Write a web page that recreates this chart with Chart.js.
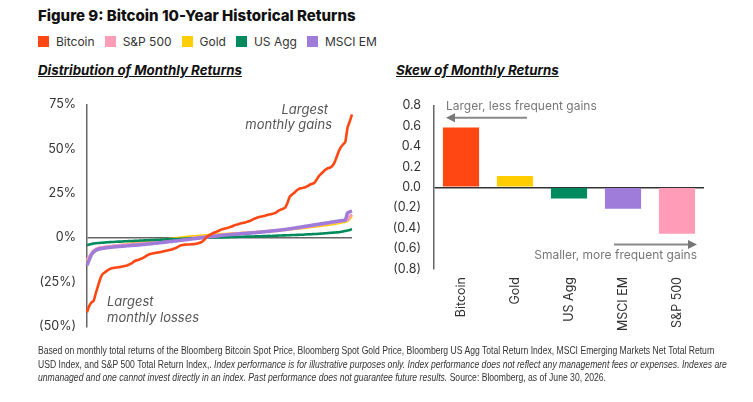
<!DOCTYPE html>
<html>
<head>
<meta charset="utf-8">
<script src="https://cdn.jsdelivr.net/npm/chart.js@4.4.1/dist/chart.umd.min.js"></script>
<style>
  body { margin: 0; background: #fff; width: 753px; height: 402px; overflow: hidden; font-family: Inter, "Open Sans", sans-serif; color: #222; }
  .abs { position: absolute; }
  #title { left: 38px; top: 6px; font-size: 15px; font-weight: 800; color: #111; white-space: nowrap; }
  #legend { left: 38px; top: 34px; font-size: 12px; color: #333; white-space: nowrap; display: flex; }
  #legend span.item { display: inline-flex; align-items: center; margin-right: 10px; }
  #legend span.sw { width: 11px; height: 11px; display: inline-block; margin-right: 7px; }
  .sub { top: 62px; font-size: 13.3px; font-weight: 700; font-style: italic; text-decoration: underline; color: #111; white-space: nowrap; }
  #foot { left: 38px; top: 344px; font-family: "Liberation Sans", Arial, sans-serif; font-size: 10px; line-height: 13.5px; color: #333; white-space: nowrap; transform: scaleX(0.86); transform-origin: 0 0; }
  #foot i { font-style: italic; }
</style>
</head>
<body>
<div id="title" class="abs">Figure 9: Bitcoin 10-Year Historical Returns</div>
<div id="legend" class="abs"></div>
<div class="abs sub" style="left:38px">Distribution of Monthly Returns</div>
<div class="abs sub" style="left:396px">Skew of Monthly Returns</div>
<canvas id="distChart" class="abs" width="360" height="259" style="left:0;top:86px"></canvas>
<canvas id="skewChart" class="abs" width="345" height="250" style="left:380px;top:85px"></canvas>
<div id="foot" class="abs">Based on monthly total returns of the Bloomberg Bitcoin Spot Price, Bloomberg Spot Gold Price, Bloomberg US Agg Total Return Index, MSCI Emerging Markets Net Total Return<br>USD Index, and S&amp;P 500 Total Return Index,. <i>Index performance is for illustrative purposes only. Index performance does not reflect any management fees or expenses. Indexes are</i><br><i>unmanaged and one cannot invest directly in an index. Past performance does not guarantee future results.</i> Source: Bloomberg, as of June 30, 2026.</div>

<script>
  // Legend order and colours
  const legendNames = ['Bitcoin', 'S&P 500', 'Gold', 'US Agg', 'MSCI EM'];
  const colors = {
    'Bitcoin': '#FF4713',
    'S&P 500': '#FF9DB8',
    'Gold': '#FFCD00',
    'US Agg': '#008A5E',
    'MSCI EM': '#A07CDA'
  };

  // Sorted monthly returns (%), 120 months, lowest to highest
  const bitcoinReturns = [
    -42, -38.5, -36.5, -35.5, -31, -27, -23, -20.5, -19.5, -18.5,
    -17.8, -17.2, -17, -16.8, -16.6, -16.5, -16.2, -15.9, -15.6, -15,
    -14.5, -13.5, -12.8, -12.5, -12, -11.5, -10.8, -10, -9.3, -9,
    -8.8, -8.5, -8.3, -8.1, -7.8, -7.5, -7.2, -6.9, -6.6, -6.2,
    -5.7, -5, -4.4, -4.1, -3.9, -3.8, -3.8, -3.7, -3.6, -3.4,
    -3.1, -2.7, -2, -0.8, 0.8, 1.5, 2.2, 2.8, 3.3, 3.8,
    4.4, 4.8, 5.2, 5.5, 5.9, 6.3, 6.9, 7.3, 7.6, 8,
    8.3, 8.6, 9, 9.4, 9.9, 10.6, 11.1, 11.5, 11.8, 12.1,
    12.4, 12.8, 13.1, 13.4, 13.7, 14.3, 15.2, 15.8, 16.3, 16.9,
    19.5, 23, 24.2, 25.2, 26.4, 27.3, 27.8, 28.1, 28.4, 29,
    29.8, 30.3, 30.8, 32.5, 34.5, 35.8, 37, 38.3, 39, 39.4,
    40.2, 42, 45, 48.5, 51, 52.5, 54, 62, 65.5, 69.5
  ];
  const sp500Returns = [
    -12.5, -10.8, -8.8, -7.2, -6.4, -5.9, -5.6, -5.4, -5.2, -5.0,
    -4.9, -4.8, -4.6, -4.5, -4.4, -4.3, -4.2, -4.1, -4.0, -3.9,
    -3.8, -3.7, -3.6, -3.5, -3.4, -3.3, -3.2, -3.1, -3.0, -2.9,
    -2.8, -2.6, -2.5, -2.4, -2.2, -2.1, -2.0, -1.8, -1.7, -1.5,
    -1.4, -1.2, -1.1, -0.9, -0.8, -0.6, -0.5, -0.3, -0.2, 0.0,
    0.1, 0.3, 0.4, 0.6, 0.7, 0.9, 1.0, 1.1, 1.3, 1.4,
    1.5, 1.6, 1.7, 1.8, 1.9, 2.0, 2.1, 2.2, 2.3, 2.4,
    2.5, 2.6, 2.7, 2.8, 2.9, 3.0, 3.1, 3.2, 3.3, 3.4,
    3.5, 3.6, 3.7, 3.8, 3.9, 4.0, 4.2, 4.3, 4.4, 4.6,
    4.7, 4.9, 5.0, 5.2, 5.4, 5.5, 5.7, 5.9, 6.1, 6.3,
    6.5, 6.7, 6.9, 7.1, 7.3, 7.5, 7.7, 7.9, 8.1, 8.3,
    8.5, 8.7, 8.9, 9.1, 9.3, 9.5, 9.7, 10.2, 12.0, 13.0
  ];
  const goldReturns = [
    -13.5, -11.5, -9.5, -8.2, -7.2, -6.6, -6.2, -5.9, -5.6, -5.4,
    -5.2, -5.0, -4.8, -4.6, -4.4, -4.2, -4.0, -3.8, -3.6, -3.4,
    -3.3, -3.1, -3.0, -2.8, -2.7, -2.5, -2.4, -2.2, -2.1, -1.9,
    -1.8, -1.6, -1.5, -1.3, -1.2, -1.0, -0.9, -0.7, -0.6, -0.4,
    -0.3, -0.1, 0.0, 0.2, 0.3, 0.5, 0.6, 0.7, 0.8, 0.9,
    1.0, 1.1, 1.2, 1.3, 1.4, 1.5, 1.6, 1.7, 1.8, 1.9,
    2.0, 2.0, 2.1, 2.2, 2.2, 2.3, 2.4, 2.4, 2.5, 2.6,
    2.7, 2.7, 2.8, 2.9, 3.0, 3.0, 3.1, 3.2, 3.3, 3.4,
    3.5, 3.6, 3.7, 3.8, 3.9, 4.0, 4.1, 4.2, 4.3, 4.4,
    4.5, 4.6, 4.8, 4.9, 5.0, 5.2, 5.3, 5.5, 5.6, 5.8,
    5.9, 6.1, 6.2, 6.4, 6.5, 6.7, 6.9, 7.0, 7.2, 7.4,
    7.6, 7.8, 8.0, 8.2, 8.4, 8.7, 9.0, 9.5, 10.8, 12.0
  ];
  const usAggReturns = [
    -4.2, -3.8, -3.5, -3.3, -3.1, -3.0, -2.9, -2.8, -2.7, -2.6,
    -2.5, -2.4, -2.4, -2.3, -2.2, -2.2, -2.1, -2.0, -2.0, -1.9,
    -1.9, -1.8, -1.7, -1.7, -1.6, -1.6, -1.5, -1.4, -1.4, -1.3,
    -1.3, -1.2, -1.2, -1.1, -1.0, -1.0, -0.9, -0.9, -0.8, -0.8,
    -0.7, -0.7, -0.6, -0.6, -0.5, -0.5, -0.4, -0.4, -0.3, -0.3,
    -0.2, -0.2, -0.1, -0.1, 0.0, 0.0, 0.1, 0.1, 0.1, 0.2,
    0.2, 0.2, 0.3, 0.3, 0.3, 0.4, 0.4, 0.4, 0.5, 0.5,
    0.5, 0.6, 0.6, 0.6, 0.7, 0.7, 0.8, 0.8, 0.8, 0.9,
    0.9, 1.0, 1.0, 1.0, 1.1, 1.1, 1.2, 1.2, 1.3, 1.3,
    1.4, 1.4, 1.5, 1.5, 1.6, 1.6, 1.7, 1.7, 1.8, 1.9,
    1.9, 2.0, 2.1, 2.1, 2.2, 2.3, 2.4, 2.5, 2.6, 2.7,
    2.8, 2.9, 3.0, 3.1, 3.3, 3.5, 3.8, 4.1, 4.4, 4.8
  ];
  const msciEmReturns = [
    -15.5, -12.5, -9.5, -8.0, -7.0, -6.5, -6.2, -6.0, -5.8, -5.6,
    -5.5, -5.4, -5.2, -5.1, -5.0, -4.9, -4.8, -4.7, -4.6, -4.5,
    -4.4, -4.3, -4.2, -4.1, -4.0, -3.9, -3.8, -3.6, -3.5, -3.4,
    -3.2, -3.1, -3.0, -2.8, -2.7, -2.5, -2.4, -2.2, -2.1, -1.9,
    -1.8, -1.6, -1.5, -1.3, -1.2, -1.0, -0.9, -0.7, -0.6, -0.4,
    -0.3, -0.1, 0.0, 0.2, 0.3, 0.5, 0.6, 0.8, 0.9, 1.1,
    1.2, 1.4, 1.5, 1.6, 1.7, 1.8, 1.9, 2.0, 2.1, 2.2,
    2.3, 2.4, 2.5, 2.6, 2.7, 2.8, 2.9, 3.0, 3.1, 3.3,
    3.4, 3.5, 3.6, 3.8, 3.9, 4.0, 4.2, 4.3, 4.5, 4.6,
    4.8, 5.0, 5.2, 5.4, 5.6, 5.8, 6.0, 6.2, 6.4, 6.6,
    6.8, 7.0, 7.2, 7.4, 7.6, 7.8, 8.0, 8.2, 8.4, 8.6,
    8.8, 9.0, 9.2, 9.4, 9.6, 9.7, 9.9, 14.0, 14.6, 15.0
  ];
  const rankLabels = bitcoinReturns.map((v, i) => i + 1);

  // Skew of monthly returns
  const skewCategories = ['Bitcoin', 'Gold', 'US Agg', 'MSCI EM', 'S&P 500'];
  const skewValues = [0.585, 0.11, -0.11, -0.21, -0.455];

  // Axis ticks
  const distTicks = [-50, -25, 0, 25, 50, 75];
  const skewTicks = [-0.8, -0.6, -0.4, -0.2, 0, 0.2, 0.4, 0.6, 0.8];

  // HTML legend
  const legendEl = document.getElementById('legend');
  legendNames.forEach(name => {
    const item = document.createElement('span');
    item.className = 'item';
    item.innerHTML = '<span class="sw" style="background:' + colors[name] + '"></span>' + name.replace('&', '&amp;');
    legendEl.appendChild(item);
  });

  const fontFamily = 'Inter, "Open Sans", sans-serif';
  Chart.defaults.font.family = fontFamily;
  Chart.defaults.color = '#333';

  // Draw the text notes on the distribution chart
  const distNotes = {
    id: 'distNotes',
    afterDraw(chart) {
      const ctx = chart.ctx;
      const a = chart.chartArea;
      const y = chart.scales.y;
      ctx.save();
      ctx.font = 'italic 13px ' + fontFamily;
      ctx.fillStyle = '#555';
      ctx.textBaseline = 'middle';
      ctx.textAlign = 'right';
      ctx.fillText('Largest', a.right - 24, y.getPixelForValue(72));
      ctx.fillText('monthly gains', a.right - 20, y.getPixelForValue(63.5));
      ctx.textAlign = 'left';
      ctx.fillText('Largest', a.left + 20, y.getPixelForValue(-36));
      ctx.fillText('monthly losses', a.left + 20, y.getPixelForValue(-45));
      ctx.restore();
    }
  };

  function arrow(ctx, x1, x2, yy) {
    const dir = x2 > x1 ? 1 : -1;
    ctx.beginPath();
    ctx.moveTo(x1, yy);
    ctx.lineTo(x2 - dir * 6, yy);
    ctx.stroke();
    ctx.beginPath();
    ctx.moveTo(x2, yy);
    ctx.lineTo(x2 - dir * 9, yy - 4.5);
    ctx.lineTo(x2 - dir * 9, yy + 4.5);
    ctx.closePath();
    ctx.fill();
  }

  const skewNotes = {
    id: 'skewNotes',
    afterDraw(chart) {
      const ctx = chart.ctx;
      const a = chart.chartArea;
      const y = chart.scales.y;
      ctx.save();
      ctx.font = '12px ' + fontFamily;
      ctx.fillStyle = '#777';
      ctx.strokeStyle = '#888';
      ctx.lineWidth = 2;
      ctx.textBaseline = 'middle';
      ctx.textAlign = 'left';
      ctx.fillText('Larger, less frequent gains', a.left + 12, y.getPixelForValue(0.79));
      ctx.textAlign = 'right';
      ctx.fillText('Smaller, more frequent gains', a.right - 7, y.getPixelForValue(-0.67));
      arrow(ctx, a.left + 93, a.left + 12, y.getPixelForValue(0.68));
      arrow(ctx, a.right - 90, a.right - 7, y.getPixelForValue(-0.56));
      ctx.restore();
    }
  };

  function pctLabel(v) {
    return v < 0 ? '(' + (-v) + '%)' : v + '%';
  }
  function skewLabel(v) {
    return v < -1e-9 ? '(' + (-v).toFixed(1) + ')' : Math.abs(v).toFixed(1);
  }

  function lineSet(label, data, width) {
    return {
      label: label,
      data: data,
      borderColor: colors[label],
      borderWidth: width,
      pointRadius: 0,
      tension: 0.15,
      fill: false
    };
  }

  new Chart(document.getElementById('distChart'), {
    type: 'line',
    data: {
      labels: rankLabels,
      datasets: [
        lineSet('Bitcoin', bitcoinReturns, 2.6),
        lineSet('MSCI EM', msciEmReturns, 3.5),
        lineSet('US Agg', usAggReturns, 2.6),
        lineSet('S&P 500', sp500Returns, 3.2),
        lineSet('Gold', goldReturns, 2.6)
      ]
    },
    options: {
      responsive: false,
      animation: false,
      layout: { padding: { top: 9, bottom: 10, right: 8, left: 0 } },
      plugins: { legend: { display: false }, tooltip: { enabled: false } },
      scales: {
        x: { display: false },
        y: {
          min: -50,
          max: 75,
          afterFit: s => { s.width = 87; },
          afterBuildTicks: s => { s.ticks = distTicks.map(v => ({ value: v })); },
          ticks: { callback: pctLabel, padding: 11, font: { size: 12.5 }, color: '#333' },
          border: { display: true, color: '#666', width: 1.5 },
          grid: {
            drawTicks: false,
            color: c => c.tick.value === 0 ? '#666' : 'transparent',
            lineWidth: 1.5
          }
        }
      }
    },
    plugins: [distNotes]
  });

  new Chart(document.getElementById('skewChart'), {
    type: 'bar',
    data: {
      labels: skewCategories,
      datasets: [{
        data: skewValues,
        backgroundColor: skewCategories.map(c => colors[c]),
        borderWidth: 0,
        barPercentage: 0.67,
        categoryPercentage: 1
      }]
    },
    options: {
      responsive: false,
      animation: false,
      layout: { padding: { top: 8, bottom: 0, right: 21, left: 0 } },
      plugins: { legend: { display: false }, tooltip: { enabled: false } },
      scales: {
        x: {
          afterFit: s => { s.height = 66; },
          ticks: { minRotation: 90, maxRotation: 90, padding: 8, font: { size: 12.5 }, color: '#333' },
          border: { display: false },
          grid: { display: false, drawTicks: false }
        },
        y: {
          min: -0.8,
          max: 0.8,
          afterFit: s => { s.width = 54; },
          afterBuildTicks: s => { s.ticks = skewTicks.map(v => ({ value: v })); },
          ticks: { callback: skewLabel, padding: 13, font: { size: 12.5 }, color: '#333' },
          border: { display: true, color: '#666', width: 1.5 },
          grid: {
            drawTicks: false,
            color: c => Math.abs(c.tick.value) < 1e-9 ? '#333' : 'transparent',
            lineWidth: 1.5
          }
        }
      }
    },
    plugins: [skewNotes]
  });
</script>
</body>
</html>
